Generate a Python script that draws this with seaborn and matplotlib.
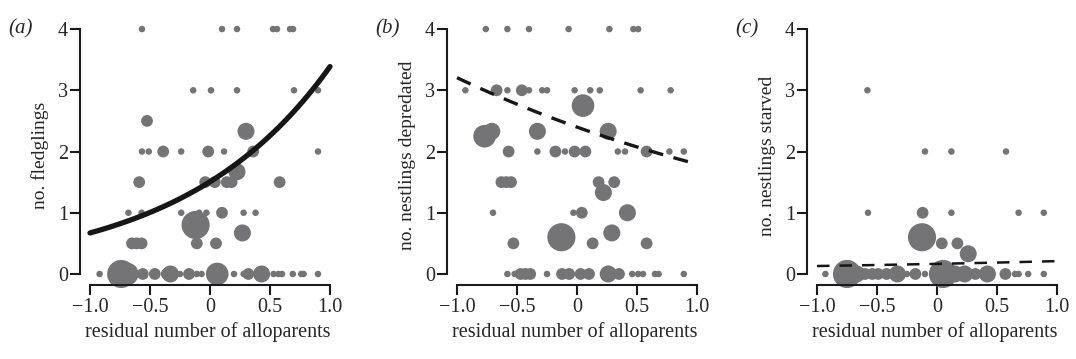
import numpy as np
import pandas as pd
import seaborn as sns
import matplotlib.pyplot as plt

# panel (a): fledglings (mean per residual, n = nests)
a_x = [-0.567, 0.10, 0.225, 0.525, 0.558, 0.667, 0.692,
       -0.14, 0.008, 0.225, 0.70, 0.90,
       -0.525, 0.30,
       -0.567, -0.51, -0.39, -0.24, -0.015, 0.117, 0.36, 0.90,
       0.225,
       -0.59, -0.04, 0.04, 0.14, 0.18, 0.58,
       -0.68, -0.57, -0.24, -0.09, -0.03, 0.10, 0.28, 0.38,
       -0.12, 0.27,
       -0.65, -0.61, -0.57, -0.11, 0.05,
       -0.92, -0.74, -0.69, -0.56, -0.46, -0.36, -0.33, -0.25, -0.175, -0.11, -0.07,
       0.06, 0.20, 0.28, 0.32, 0.43, 0.53, 0.57, 0.60, 0.69, 0.76, 0.78, 0.90]
a_y = [4] * 7 + [3] * 5 + [2.5, 2.33] + [2] * 8 + [1.67] + [1.5] * 6 + [1] * 8 + \
      [0.8, 0.67] + [0.5] * 5 + [0] * 23
a_n = [1] * 7 + [1] * 5 + [2, 3] + [1, 1, 2, 1, 2, 1, 2, 1] + [3] + [2] * 6 + \
      [1, 1, 1, 1, 1, 2, 1, 1] + [5, 3] + [2] * 5 + \
      [1, 5, 4, 2, 2, 2, 3, 1, 2, 1, 1, 4, 1, 1, 2, 3, 1, 1, 1, 1, 1, 1, 1]

# panel (b): nestlings depredated
b_x = [-0.76, -0.58, -0.40, -0.07, 0.27, 0.47, 0.51,
       -0.93, -0.67, -0.58, -0.46, -0.40, -0.29, -0.25, -0.02, 0.11, 0.19, 0.53, 0.78,
       0.05, -0.77, -0.71, -0.33, 0.26,
       -0.57, -0.33, -0.18, -0.10, -0.02, 0.07, 0.34, 0.40, 0.58, 0.77, 0.89,
       -0.63, -0.59, -0.55, 0.18, 0.31,
       0.22,
       -0.70, -0.03, 0.04, 0.42,
       0.29, -0.13,
       -0.53, 0.13, 0.58,
       -0.58, -0.52, -0.47, -0.43, -0.39, -0.25, -0.125, -0.065, 0.03, 0.10,
       0.26, 0.35, 0.46, 0.51, 0.55, 0.65, 0.68, 0.89]
b_y = [4] * 7 + [3] * 12 + [2.75, 2.25, 2.33, 2.33, 2.33] + [2] * 11 + [1.5] * 5 + \
      [1.33] + [1] * 4 + [0.67, 0.6] + [0.5] * 3 + [0] * 18
b_n = [1] * 7 + [1, 2, 1, 2, 1, 1, 1, 1, 1, 1, 1, 1] + [4, 4, 3, 3, 3] + \
      [2, 1, 2, 1, 2, 2, 1, 1, 2, 1, 1] + [2] * 5 + [3] + [1, 1, 2, 3] + [3, 5] + \
      [2] * 3 + [1, 1, 2, 2, 2, 1, 2, 2, 2, 2, 3, 2, 1, 1, 1, 1, 1, 1]

# panel (c): nestlings starved
c_x = [-0.58,
       -0.10, 0.12, 0.575,
       -0.575, -0.12, 0.12, 0.68, 0.89,
       -0.125,
       0.04, 0.17,
       0.26,
       -0.93, -0.75, -0.67, -0.60, -0.54, -0.49, -0.42, -0.33, -0.25, -0.18, -0.10,
       0.05, 0.15, 0.23, 0.32, 0.42, 0.57, 0.65, 0.68, 0.76, 0.89]
c_y = [3] + [2] * 3 + [1] * 5 + [0.6] + [0.5] * 2 + [0.33] + [0] * 21
c_n = [1] + [1] * 3 + [1, 2, 1, 1, 1] + [5] + [2, 2] + [3] + \
      [1, 5, 3, 2, 2, 2, 2, 3, 1, 2, 1, 5, 3, 3, 2, 3, 2, 1, 1, 1, 1]

# fitted model coefficients (log link)
fits = {'a': (0.41, 0.81), 'b': (0.875, -0.29), 'c': (-1.8, 0.24)}

x_ticks = [-1.0, -0.5, 0, 0.5, 1.0]
x_ticklabels = ['\u22121.0', '\u22120.5', '0', '0.5', '1.0']
y_ticks = [0, 1, 2, 3, 4]
ylabels = ['no. fledglings', 'no. nestlings depredated', 'no. nestlings starved']
letters = ['(a)', '(b)', '(c)']

sns.set_style('ticks')
plt.rcParams['font.family'] = ['Liberation Serif', 'DejaVu Serif']
plt.rcParams['font.size'] = 14

fig = plt.figure(figsize=(10.76, 3.59), dpi=100)
lefts = [80.4, 447.4, 807.4]
W, H = 1076, 359
sizes = {1: 22, 2: 72, 3: 150, 4: 265, 5: 410}
dot = '#747477'

panels = [(a_x, a_y, a_n), (b_x, b_y, b_n), (c_x, c_y, c_n)]
for i, (px, py, pn) in enumerate(panels):
    ax = fig.add_axes([lefts[i] / W, 1 - 285 / H, 255.6 / W, 259 / H])
    df = pd.DataFrame({'x': px, 'y': py, 'n': pn})
    sns.scatterplot(data=df, x='x', y='y', size='n', sizes=sizes, color=dot,
                    edgecolor='none', linewidth=0, alpha=1, legend=False,
                    ax=ax, zorder=2, clip_on=False)
    b0, b1 = fits['abc'[i]]
    xs = np.linspace(-1, 1, 100)
    line = pd.DataFrame({'x': xs, 'y': np.exp(b0 + b1 * xs)})
    if i == 0:
        sns.lineplot(data=line, x='x', y='y', ax=ax, color='#161616', lw=3.8,
                     zorder=3, solid_capstyle='round')
    elif i == 1:
        sns.lineplot(data=line, x='x', y='y', ax=ax, color='#161616', lw=2.4,
                     zorder=3, linestyle=(0, (4.5, 3.2)))
    else:
        sns.lineplot(data=line, x='x', y='y', ax=ax, color='#161616', lw=1.8,
                     zorder=3, linestyle=(0, (5, 4)))
    ax.set_xlim(-1.08, 1.05)
    ax.set_ylim(-0.18, 4.05)
    ax.set_xticks(x_ticks)
    ax.set_xticklabels(x_ticklabels)
    ax.set_yticks(y_ticks)
    ax.spines['left'].set_bounds(0, 4)
    ax.spines['bottom'].set_bounds(-1, 1)
    sns.despine(ax=ax)
    for s in ['left', 'bottom']:
        ax.spines[s].set_linewidth(1.5)
        ax.spines[s].set_color('#1a1a1a')
    ax.tick_params(width=1.5, length=7.5, color='#1a1a1a', labelsize=14.5, pad=1.5)
    ax.set_xlabel('residual number of alloparents', fontsize=14.5, labelpad=4)
    ax.set_ylabel(ylabels[i], fontsize=14, labelpad=6)
    ax.text(-0.235, 0.99, letters[i], transform=ax.transAxes, fontsize=15,
            style='italic', va='center', ha='center')

fig.savefig('out.png', dpi=100)
